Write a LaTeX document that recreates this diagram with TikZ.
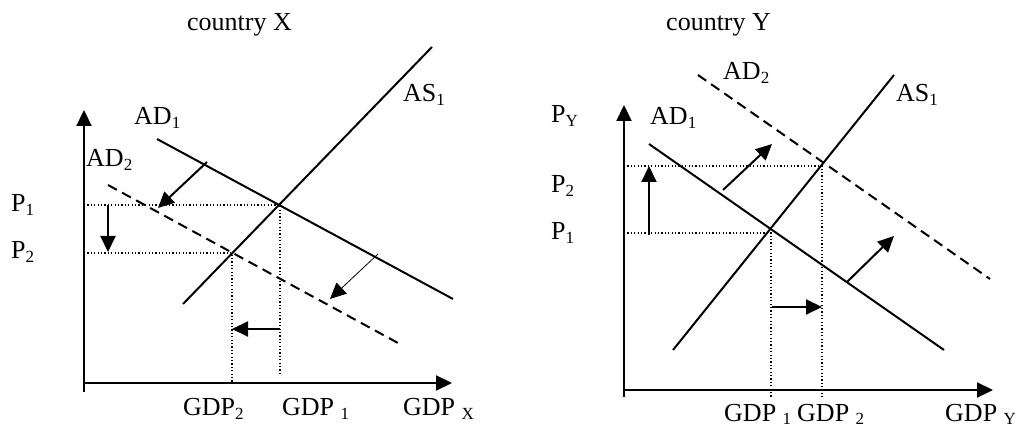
\documentclass[tikz,border=0pt]{standalone}
\usepackage{fontspec}
\setmainfont{Liberation Serif}
\usetikzlibrary{arrows.meta}
\newcommand{\lowsub}[1]{\raisebox{-4pt}{\fontsize{17}{17}\selectfont #1}}
\tikzset{
  curve/.style={line width=2pt},
  shiftcurve/.style={line width=2pt, dash pattern=on 10pt off 6pt},
  guide/.style={line width=1.2pt, dash pattern=on 1.2pt off 2.2pt},
  axis/.style={line width=2.2pt, -{Triangle[length=16pt,width=15pt]}},
  move/.style={line width=2pt, -{Triangle[length=16pt,width=15pt]}},
  thinmove/.style={line width=0.8pt, -{Triangle[length=16pt,width=15pt]}},
  lbl/.style={anchor=base west, inner sep=0pt, font=\fontsize{26}{30}\selectfont},
}
\begin{document}
\begin{tikzpicture}[x=1pt, y=-1pt]
\useasboundingbox (0,0) rectangle (1015,427);
\coordinate (xyb) at (84,392);
\coordinate (xyt) at (84,110);
\coordinate (xxl) at (84,383);
\coordinate (xxr) at (452,383);
\coordinate (xas0) at (183,304);
\coordinate (xas1) at (432,47);
\coordinate (xad0) at (157,139);
\coordinate (xad1) at (453,299);
\coordinate (xae0) at (108,185);
\coordinate (xae1) at (398,343);
\coordinate (xe1) at (280,205);
\coordinate (xe2) at (232,253);
\coordinate (xp1) at (84,205);
\coordinate (xp2) at (84,253);
\coordinate (xg1) at (280,373);
\coordinate (xg2) at (232,383);
\draw[axis] (xyb) -- (xyt);
\draw[axis] (xxl) -- (xxr);
\draw[curve] (xas0) -- (xas1);
\draw[curve] (xad0) -- (xad1);
\draw[shiftcurve] (xae0) -- (xae1);
\draw[guide] (xp1) -- (xe1) -- (xg1);
\draw[guide] (xp2) -- (xe2) -- (xg2);
\draw[move] (108,205) -- (108,252);
\draw[move] (207,162) -- (158,208);
\draw[thinmove] (378,254) -- (330,299);
\draw[move] (280,329) -- (232,329);
\node[lbl] (xtitle) at (187,31) {country X};
\node[lbl] (xasl) at (403,102) {AS\lowsub{1}};
\node[lbl] (xadl) at (134,125) {AD\lowsub{1}};
\node[lbl] (xael) at (86,167) {AD\lowsub{2}};
\node[lbl] (xp1l) at (11,212) {P\lowsub{1}};
\node[lbl] (xp2l) at (11,259) {P\lowsub{2}};
\node[lbl] (xg2l) at (183,416) {GDP\lowsub{2}};
\node[lbl] (xg1l) at (282,416) {GDP \lowsub{1}};
\node[lbl] (xgl) at (403,416) {GDP \lowsub{X}};
\coordinate (yyb) at (624,397);
\coordinate (yyt) at (624,105);
\coordinate (yxl) at (624,390);
\coordinate (yxr) at (993,390);
\coordinate (yas0) at (673,350);
\coordinate (yas1) at (894,75);
\coordinate (yad0) at (649,144);
\coordinate (yad1) at (944,350);
\coordinate (yae0) at (698,75);
\coordinate (yae1) at (990,279);
\coordinate (ye1) at (771,233);
\coordinate (ye2) at (822,166);
\coordinate (yp1) at (624,233);
\coordinate (yp2) at (624,166);
\coordinate (yg1) at (771,397);
\coordinate (yg2) at (822,397);
\draw[axis] (yyb) -- (yyt);
\draw[axis] (yxl) -- (yxr);
\draw[curve] (yas0) -- (yas1);
\draw[curve] (yad0) -- (yad1);
\draw[shiftcurve] (yae0) -- (yae1);
\draw[guide] (yp1) -- (ye1) -- (yg1);
\draw[guide] (yp2) -- (ye2) -- (yg2);
\draw[move] (649,235) -- (649,166);
\draw[move] (723,190) -- (772,144);
\draw[move] (847,282) -- (894,236);
\draw[move] (772,307) -- (822,307);
\node[lbl] (ytitle) at (666,31) {country Y};
\node[lbl] (yael) at (723,80) {AD\lowsub{2}};
\node[lbl] (yasl) at (896,102) {AS\lowsub{1}};
\node[lbl] (ypl) at (551,123) {P\lowsub{Y}};
\node[lbl] (yadl) at (650,125) {AD\lowsub{1}};
\node[lbl] (yp2l) at (551,193) {P\lowsub{2}};
\node[lbl] (yp1l) at (551,240) {P\lowsub{1}};
\node[lbl] (yg1l) at (724,421) {GDP \lowsub{1}};
\node[lbl] (yg2l) at (797,421) {GDP \lowsub{2}};
\node[lbl] (ygl) at (945,421) {GDP \lowsub{Y}};
\end{tikzpicture}
\end{document}
